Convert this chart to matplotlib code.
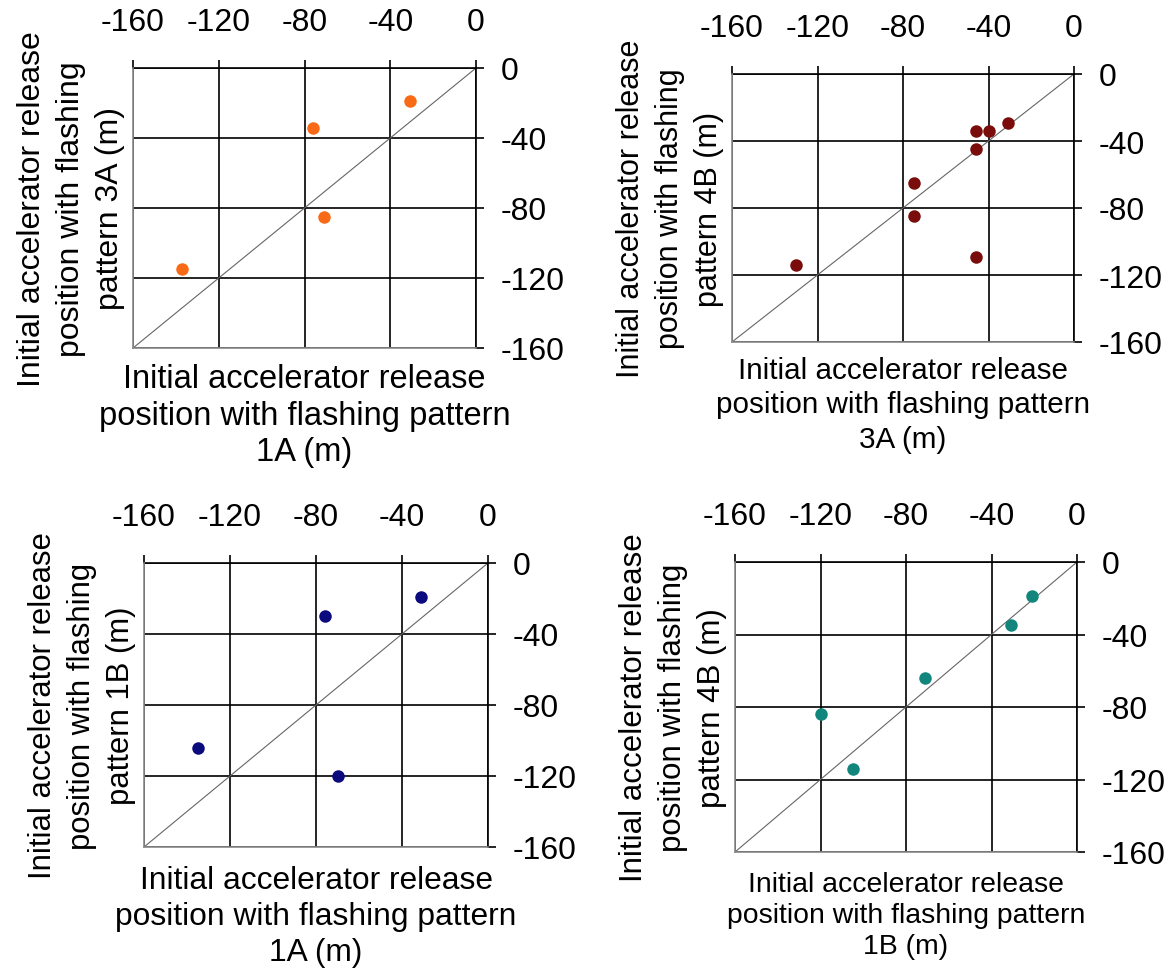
import matplotlib.pyplot as plt

plt.rcParams['font.family'] = ['Liberation Sans', 'DejaVu Sans']
plt.rcParams['axes.unicode_minus'] = False

# tick values shared by every panel
ticks = [-160, -120, -80, -40, 0]

# panel 1: pattern 1A vs 3A
p1_x = [-31, -76, -71, -137]
p1_y = [-19, -34, -85, -115]

# panel 2: pattern 3A vs 4B
p2_x = [-31, -46, -40, -46, -75, -75, -46, -130]
p2_y = [-29, -34, -34, -45, -65, -85, -109, -114]

# panel 3: pattern 1A vs 1B
p3_x = [-31, -76, -135, -70]
p3_y = [-19, -30, -104, -120]

# panel 4: pattern 1B vs 4B
p4_x = [-21, -31, -71, -120, -105]
p4_y = [-19, -35, -64, -84, -114]

W, H = 1172, 978
fig = plt.figure(figsize=(W / 100, H / 100), dpi=100)


def px_axes(x0, y0, x1, y1):
    # axes box from pixel corners of the reference
    return fig.add_axes([x0 / W, 1 - y1 / H, (x1 - x0) / W, (y1 - y0) / H])


# axes, data, colour, x pattern, y pattern, xlabel size, ylabel size,
# xlabel pad, xlabel line spacing
panels = [
    (px_axes(133, 69, 476, 349), p1_x, p1_y, '#F86A16', '1A', '3A', 23.5, 23, 11, 1.23),
    (px_axes(732, 75, 1074, 343), p2_x, p2_y, '#7A0C0C', '3A', '4B', 21.3, 22, 10, 1.3),
    (px_axes(144, 564, 488, 848), p3_x, p3_y, '#0B0B7E', '1A', '1B', 22.9, 22.4, 13, 1.25),
    (px_axes(735, 563, 1077, 853), p4_x, p4_y, '#12867D', '1B', '4B', 20.4, 22.5, 14, 1.25),
]

for ax, xs, ys, color, xname, yname, xfs, yfs, xpad, xls in panels:
    lim = (ticks[0], ticks[-1])
    ax.set_xlim(lim)
    ax.set_ylim(lim)
    ax.plot(lim, lim, color='#666666', lw=0.8, zorder=2)
    ax.plot(xs, ys, 'o', color=color, ms=9, mec='none', zorder=3)

    ax.set_xticks(ticks)
    ax.set_yticks(ticks)
    ax.xaxis.tick_top()
    ax.yaxis.tick_right()
    ax.tick_params(axis='x', length=6, width=1.2, pad=16, labelsize=23)
    ax.tick_params(axis='y', length=6, width=1.2, pad=12, labelsize=23)
    ax.grid(True, color='black', lw=1.2)

    for side in ['top', 'right']:
        ax.spines[side].set_color('black')
        ax.spines[side].set_linewidth(1.2)
    for side in ['left', 'bottom']:
        ax.spines[side].set_color('#8a8a8a')
        ax.spines[side].set_linewidth(1.2)
        ax.spines[side].set_zorder(4)

    ax.xaxis.set_label_position('bottom')
    ax.yaxis.set_label_position('left')
    ax.set_xlabel('Initial accelerator release\nposition with flashing pattern\n' + xname + ' (m)',
                  fontsize=xfs, labelpad=xpad, linespacing=xls)
    ax.set_ylabel('Initial accelerator release\nposition with flashing\npattern ' + yname + ' (m)',
                  fontsize=yfs, labelpad=6, linespacing=1.38)

fig.savefig('out.png', dpi=100)
